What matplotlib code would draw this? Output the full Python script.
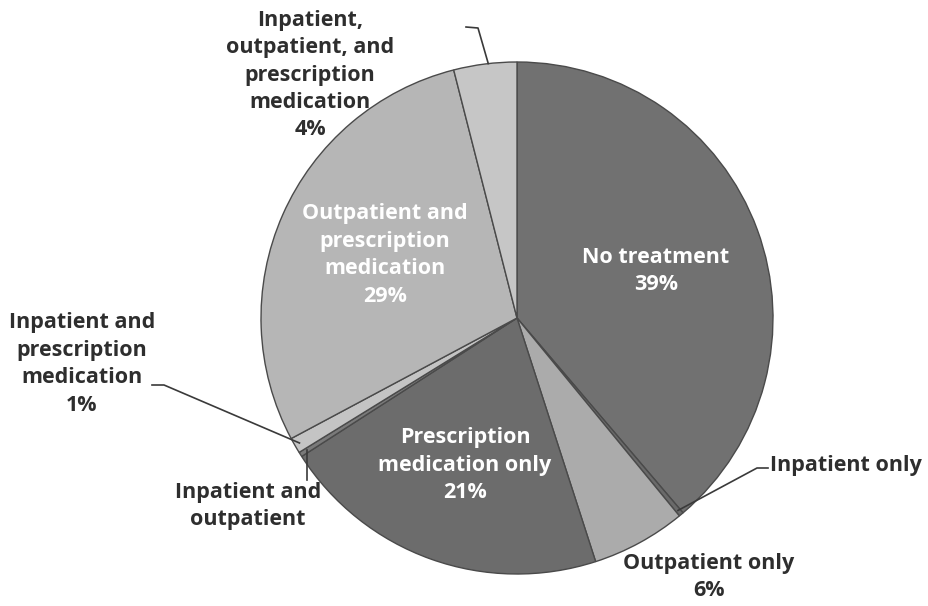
from matplotlib import pyplot as plt
import numpy as np

# data
categories = ['No treatment', 'Inpatient only', 'Outpatient only',
              'Prescription medication only', 'Inpatient and outpatient',
              'Inpatient and prescription medication',
              'Outpatient and prescription medication',
              'Inpatient, outpatient, and prescription medication']
shares = [39, 0.3, 6, 21, 0.3, 1, 29, 4]
pct_labels = ['39%', '', '6%', '21%', '', '1%', '29%', '4%']

colors = ['#717171', '#6a6a6a', '#ababab', '#6c6c6c', '#7a7a7a',
          '#c4c4c4', '#b6b6b6', '#c6c6c6']

W, H = 929, 606
fig = plt.figure(figsize=(W / 100, H / 100), dpi=100)
ax = fig.add_axes([0, 0, 1, 1])

cx, cy, r = 517, H - 318, 256
wedges, _ = ax.pie(shares, colors=colors, startangle=90, counterclock=False,
                   center=(cx, cy), radius=r, frame=True,
                   wedgeprops=dict(edgecolor='#4a4a4a', linewidth=1.0))
ax.set_xlim(0, W)
ax.set_ylim(0, H)
ax.set_aspect('equal')
ax.axis('off')

font = ['Open Sans', 'DejaVu Sans']
txt = '#2e2e2e'
fs = 15.5
ls = 1.4


def img(x, y):
    return x, H - y


def edge_point(w, frac=0.5, rr=1.0):
    a = np.deg2rad(w.theta1 + (w.theta2 - w.theta1) * frac)
    return cx + r * rr * np.cos(a), cy + r * rr * np.sin(a)


def label(x, y, s, color=txt, ha='center'):
    ax.text(*img(x, y), s, color=color, fontsize=fs, fontweight='bold',
            family=font, ha=ha, va='center', linespacing=ls)


# labels inside the pie
label(656, 271, 'No treatment\n' + pct_labels[0], color='white')
label(385, 255, 'Outpatient and\nprescription\nmedication\n' + pct_labels[6],
      color='white')
label(465, 465, 'Prescription\nmedication only\n' + pct_labels[3], color='white')

# labels outside
label(709, 577, 'Outpatient only\n' + pct_labels[2])

label(770, 466, 'Inpatient only', ha='left')
p = edge_point(wedges[1], 0.5, 0.98)
ax.plot([p[0], 757, 768], [p[1], H - 468, H - 468], color='#3a3a3a', lw=1.2)

label(82, 364, 'Inpatient and\nprescription\nmedication\n' + pct_labels[5])
p = edge_point(wedges[5], 0.5, 0.98)
ax.plot([152, 164, p[0]], [H - 385, H - 385, p[1]], color='#3a3a3a', lw=1.2)

label(248, 506, 'Inpatient and\noutpatient')
p = edge_point(wedges[4], 0.5, 0.97)
ax.plot([p[0], p[0]], [p[1], H - 480], color='#3a3a3a', lw=1.2)

label(310, 75, 'Inpatient,\noutpatient, and\nprescription\nmedication\n' + pct_labels[7])
p = edge_point(wedges[7], 0.45, 1.0)
ax.plot([p[0], 478, 466], [p[1], H - 28, H - 27], color='#3a3a3a', lw=1.2)

plt.savefig('out.png', dpi=100)
